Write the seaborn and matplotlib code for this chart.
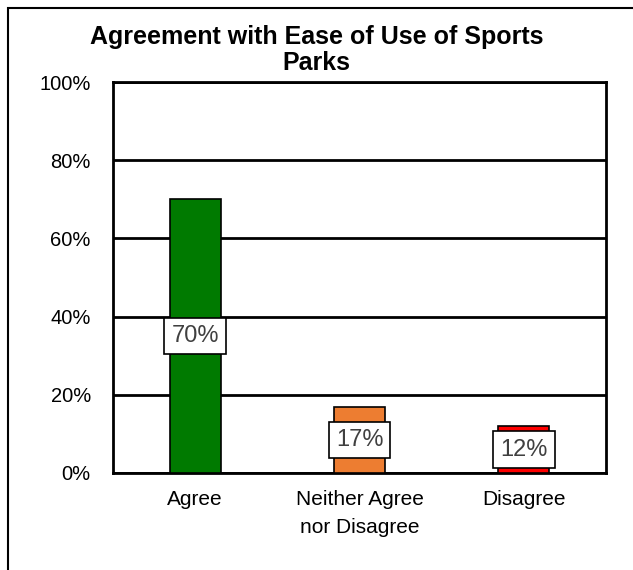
import matplotlib
matplotlib.use("Agg")
import matplotlib.pyplot as plt
import seaborn as sns
import pandas as pd
from matplotlib.patches import Rectangle

categories = ["Agree", "Neither Agree\nnor Disagree", "Disagree"]
values = [70, 17, 12]
colors = ["#007A00", "#ED7D31", "#FF0000"]
yticks = [0, 20, 40, 60, 80, 100]
ytick_labels = ["0%", "20%", "40%", "60%", "80%", "100%"]
title = "Agreement with Ease of Use of Sports\nParks"

sns.set_theme(style="white")
plt.rcParams["font.family"] = ["Liberation Sans", "DejaVu Sans"]

df = pd.DataFrame({"category": categories, "value": values})

fig = plt.figure(figsize=(6.33, 5.7), dpi=100)
ax = fig.add_axes([113 / 633, 1 - 473 / 570, (606 - 113) / 633, (473 - 82) / 570])

sns.barplot(data=df, x="category", y="value", hue="category", palette=colors,
            legend=False, width=0.31, edgecolor="black", linewidth=1.2,
            saturation=1, ax=ax, zorder=3)

ax.set_ylim(0, 100)
ax.set_xlim(-0.5, 2.5)
ax.set_yticks(yticks)
ax.set_yticklabels(ytick_labels, fontsize=14.5, color="black")
ax.tick_params(axis="x", labelsize=15, colors="black", length=0, pad=12)
ax.tick_params(axis="y", direction="out", length=5, width=2, color="black", pad=11)
ax.set_xlabel("")
ax.set_ylabel("")
for t in ax.get_xticklabels():
    t.set_linespacing(1.65)

for y in yticks:
    ax.axhline(y, color="black", linewidth=2, zorder=2)
for s in ax.spines.values():
    s.set_visible(True)
    s.set_color("black")
    s.set_linewidth(2)

for i, v in enumerate(values):
    ax.text(i, v / 2, f"{v}%", ha="center", va="center", fontsize=17,
            color="#404040", zorder=5,
            bbox=dict(boxstyle="square,pad=0.3", facecolor="white",
                      edgecolor="black", linewidth=1.2))

fig.text(0.5, 1 - 50 / 570, title, ha="center", va="center", fontsize=18,
         fontweight="bold", color="black", linespacing=1.15)

# outer frame, running off the right and bottom edges
fig.patches.append(Rectangle((8 / 633, -0.1), 1.0, 1 - 8 / 570 + 0.1,
                             transform=fig.transFigure, fill=False,
                             edgecolor="black", linewidth=1.5))

fig.savefig("out.png", dpi=100, facecolor="white")
